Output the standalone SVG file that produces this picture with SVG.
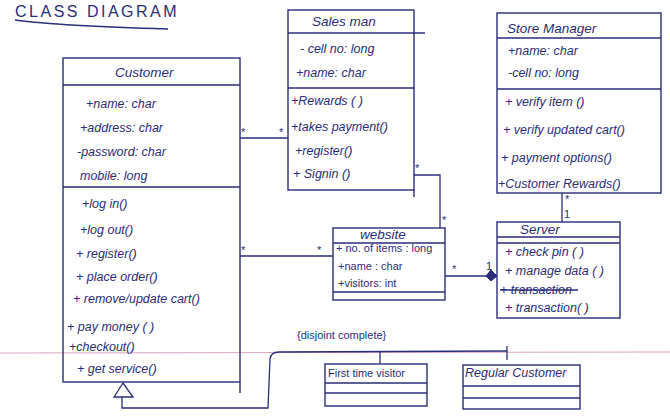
<svg xmlns="http://www.w3.org/2000/svg" width="670" height="419" viewBox="0 0 670 419">
<defs>
<style>
.b{fill:none;stroke:#2b2d78;stroke-width:1.4}
.t{font-family:"Liberation Sans",Arial,sans-serif;font-size:12.5px;fill:#2b2d78;font-style:italic}
.h{font-family:"Liberation Sans",Arial,sans-serif;font-size:13.5px;fill:#2b2d78;font-style:italic}
.s{font-family:"Liberation Sans",Arial,sans-serif;font-size:11px;fill:#2b2d78}
.c{fill:none;stroke:#2b2d78;stroke-width:1.3}
</style>
</defs>
<rect width="670" height="419" fill="#ffffff"/>
<line x1="0" y1="353" x2="670" y2="352" stroke="#d9a3c4" stroke-width="1"/>
<g id="title">
<text x="15" y="17" style="font-family:'Liberation Sans',Arial,sans-serif;font-size:16px;fill:#2b2d78;letter-spacing:2.5px">CLASS DIAGRAM</text>
<path d="M15 20 Q60 26 168 29" class="b"/>
</g>
<g id="customer">
<rect x="63" y="58" width="177" height="324" class="b"/>
<line x1="63" y1="85" x2="240" y2="85" class="b"/>
<line x1="63" y1="187" x2="240" y2="187" class="b"/>
<line x1="240" y1="382" x2="240" y2="393" class="b"/>
<text x="115" y="77" class="h">Customer</text>
<text x="86" y="108" class="t">+name: char</text>
<text x="80" y="132" class="t">+address: char</text>
<text x="77" y="156" class="t">-password: char</text>
<text x="80" y="180" class="t">mobile: long</text>
<text x="82" y="208" class="t">+log in()</text>
<text x="80" y="234" class="t">+log out()</text>
<text x="76" y="258" class="t">+ register()</text>
<text x="76" y="281" class="t">+ place order()</text>
<text x="73" y="303" class="t">+ remove/update cart()</text>
<text x="67" y="331" class="t">+ pay money ( )</text>
<text x="69" y="351" class="t">+checkout()</text>
<text x="77" y="373" class="t">+ get service()</text>
</g>
<g id="salesman">
<rect x="288" y="10" width="126" height="180" class="b"/>
<line x1="288" y1="33" x2="425" y2="33" class="b"/>
<line x1="288" y1="88" x2="414" y2="88" class="b"/>
<line x1="414" y1="190" x2="414" y2="197" class="b"/>
<text x="312" y="26" class="h">Sales man</text>
<text x="300" y="53" class="t">- cell no: long</text>
<text x="296" y="77" class="t">+name: char</text>
<text x="291" y="105" class="t">+Rewards ( )</text>
<text x="291" y="131" class="t">+takes payment()</text>
<text x="295" y="155" class="t">+register()</text>
<text x="293" y="178" class="t">+ Signin ()</text>
</g>
<g id="store_manager">
<rect x="497" y="13" width="164" height="180" class="b"/>
<line x1="497" y1="38" x2="661" y2="38" class="b"/>
<line x1="497" y1="89" x2="661" y2="89" class="b"/>
<text x="507" y="33" class="h">Store Manager</text>
<text x="508" y="55" class="t">+name: char</text>
<text x="508" y="77" class="t">-cell no: long</text>
<text x="505" y="106" class="t">+ verify item ()</text>
<text x="503" y="134" class="t">+ verify updated cart()</text>
<text x="501" y="162" class="t">+ payment options()</text>
<text x="498" y="188" class="t">+Customer Rewards()</text>
</g>
<g id="website">
<rect x="333" y="228" width="112" height="72" class="b"/>
<line x1="333" y1="243" x2="445" y2="243" class="b"/>
<line x1="333" y1="292" x2="445" y2="292" class="b"/>
<text x="360" y="239" class="h">website</text>
<text x="336" y="252" class="s">+ no. of items : long</text>
<text x="338" y="270" class="s">+name : char</text>
<text x="338" y="287" class="s">+visitors: int</text>
</g>
<g id="server">
<rect x="497" y="222" width="123" height="96" class="b"/>
<line x1="497" y1="237" x2="620" y2="237" class="b"/>
<line x1="497" y1="243" x2="620" y2="243" class="b"/>
<text x="520" y="234" class="h">Server</text>
<text x="505" y="256" class="t">+ check pin ( )</text>
<text x="505" y="275" class="t">+ manage data ( )</text>
<text x="500" y="294" class="t">+ transaction</text>
<line x1="500" y1="290" x2="578" y2="290" class="b"/>
<text x="505" y="312" class="t">+ transaction( )</text>
</g>
<g id="first_time_visitor">
<rect x="325" y="364" width="102" height="42" class="b"/>
<line x1="325" y1="383" x2="427" y2="383" class="b"/>
<line x1="325" y1="393" x2="427" y2="393" class="b"/>
<text x="328" y="377" class="s">First time visitor</text>
</g>
<g id="regular_customer">
<rect x="463" y="365" width="117" height="44" class="b"/>
<line x1="463" y1="386" x2="580" y2="386" class="b"/>
<line x1="463" y1="398" x2="580" y2="398" class="b"/>
<text x="465" y="377" class="t">Regular Customer</text>
</g>
<g id="connectors">
<line x1="240" y1="138" x2="288" y2="138" class="c"/>
<text x="241" y="136" class="s">*</text>
<text x="279" y="136" class="s">*</text>
<polyline points="414,175 440,175 440,228" class="c"/>
<text x="415" y="172" class="s">*</text>
<text x="442" y="224" class="s">*</text>
<line x1="240" y1="256" x2="333" y2="256" class="c"/>
<text x="241" y="254" class="s">*</text>
<text x="317" y="254" class="s">*</text>
<line x1="445" y1="276" x2="486" y2="276" class="c"/>
<polygon points="486,276 491,270 497,276 491,281" fill="#2b2d78" stroke="#2b2d78"/>
<text x="452" y="273" class="s">*</text>
<text x="486" y="270" class="s">1</text>
<line x1="562" y1="193" x2="562" y2="222" class="c"/>
<text x="565" y="203" class="s">*</text>
<text x="564" y="218" class="s">1</text>
<polygon points="123,383 114,397 133,397" fill="#ffffff" stroke="#2b2d78" stroke-width="1.3"/>
<path d="M122 397 L122 408 L268 408 L270 359 Q271 352 279 352 L507 351" class="c"/>
<line x1="380" y1="352" x2="380" y2="364" class="c"/>
<line x1="507" y1="346" x2="507" y2="360" class="c"/>
<text x="297" y="339" class="s">{disjoint complete}</text>
</g>
</svg>
